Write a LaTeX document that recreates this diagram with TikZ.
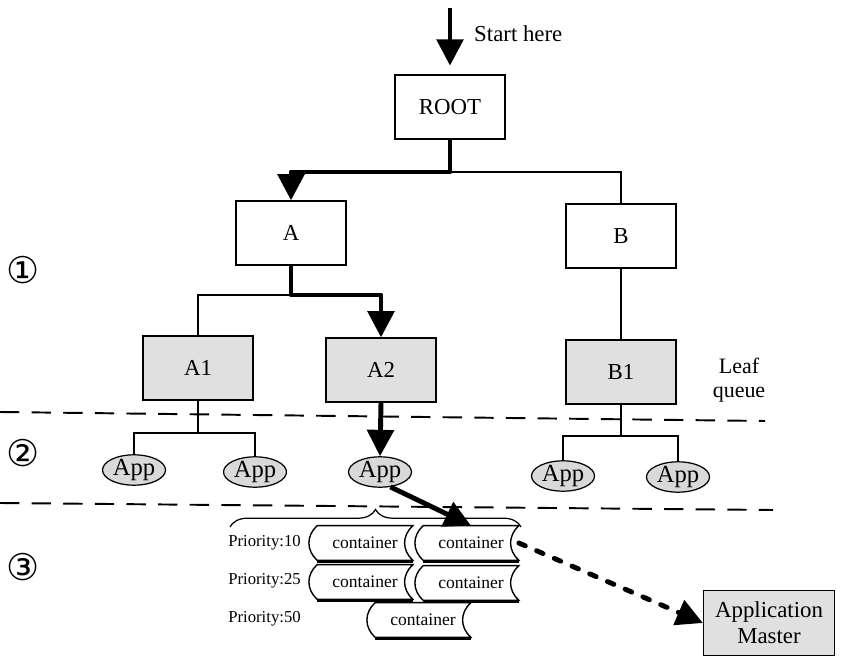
\documentclass[tikz,border=0pt]{standalone}
\usepackage{fontspec}
\setmainfont{Liberation Serif}
\newfontfamily\circfont{DejaVu Sans}
\usetikzlibrary{arrows.meta,shapes.geometric,decorations.pathreplacing}

\tikzset{
	qbox/.style={draw, line width=0.7pt, minimum width=2.2cm, minimum height=1.28cm, font=\fontsize{13}{15}\selectfont},
	leafbox/.style={qbox, fill=black!12},
	app/.style={ellipse, draw, line width=0.7pt, fill=black!15, minimum width=1.26cm, minimum height=0.58cm, inner sep=0pt, font=\fontsize{14}{16}\selectfont},
	cont/.style={minimum width=1.9cm, minimum height=0.68cm, inner sep=0pt, font=\fontsize{10}{12}\selectfont},
	prio/.style={anchor=west, inner sep=0pt, font=\fontsize{9.5}{11}\selectfont},
	branch/.style={line width=0.7pt},
	hotpath/.style={line width=2.8pt, line join=round},
	bigtip/.style={-{Triangle[length=15pt, width=15pt]}},
	sepline/.style={line width=1.1pt, dash pattern=on 11pt off 7pt},
	circnum/.style={font=\circfont\fontsize{21}{21}\selectfont}
}

\begin{document}
\begin{tikzpicture}[x=0.02cm, y=-0.02cm]
	\useasboundingbox (0, 0) rectangle (849, 669);

	% queue tree
	\node [qbox] (root) at (450, 107) {ROOT};
	\node [qbox] (a) at (291, 233) {A};
	\node [qbox] (b) at (621, 236) {B};
	\node [leafbox] (a1) at (198, 368) {A1};
	\node [leafbox] (a2) at (381, 370) {A2};
	\node [leafbox] (b1) at (621, 372) {B1};

	\node [anchor=west, font=\fontsize{13}{15}\selectfont] (start here) at (468, 34) {Start here};
	\node [align=center, font=\fontsize{12.5}{14}\selectfont] (leaf) at (739, 380) {Leaf\\queue};

	\coordinate (start) at (450, 8);
	\coordinate (rj) at (450, 172);
	\coordinate (aj) at (291, 295);
	\coordinate (a1j) at (198, 433);
	\coordinate (b1j) at (621, 436);

	\draw [hotpath, bigtip, shorten >=5pt] (start) -- (root.north);
	\draw [branch] (rj) -| (b.north);
	\draw [hotpath, bigtip] (root.south) -- (rj) -| (a.north);
	\draw [branch] (aj) -| (a1.north);
	\draw [hotpath, bigtip] (a.south) -- (aj) -| (a2.north);
	\draw [branch] (b.south) -- (b1.north);

	% apps
	\node [app] (app1) at (134, 470) {App};
	\node [app] (app2) at (255, 472) {App};
	\node [app] (app3) at (380, 472) {App};
	\node [app] (app4) at (563, 476) {App};
	\node [app] (app5) at (678, 477) {App};

	\draw [branch] (a1.south) -- (a1j);
	\draw [branch] (a1j) -| (app1.north);
	\draw [branch] (a1j) -| (app2.north);
	\draw [branch] (b1.south) -- (b1j);
	\draw [branch] (b1j) -| (app4.north);
	\draw [branch] (b1j) -| (app5.north);
	\draw [hotpath, bigtip] (a2.south) -- (app3.north);

	\draw [sepline] (0, 412) -- (765, 421);
	\draw [sepline] (0, 503) -- (773, 510);

	% containers
	\node [prio] (p10) at (228, 543) {Priority:10};
	\node [prio] (p25) at (228, 581) {Priority:25};
	\node [prio] (p50) at (228, 619) {Priority:50};

	\node [cont] (c11) at (365, 543) {container};
	\node [cont] (c12) at (471, 543) {container};
	\node [cont] (c21) at (365, 582) {container};
	\node [cont] (c22) at (471, 583) {container};
	\node [cont] (c3) at (423, 620) {container};

	\foreach \c in {c11, c12, c21, c22, c3} {
		\draw [line width=0.8pt] (\c.north west) .. controls +(-11, 10) and +(-11, -10) .. (\c.south west)
			-- (\c.south east) .. controls +(-11, -10) and +(-11, 10) .. (\c.north east) -- cycle;
		\draw [line width=1.8pt] ([yshift=-0.6pt]\c.south west) -- ([yshift=-0.6pt]\c.south east);
	}

	\coordinate (bl) at (230, 527);
	\coordinate (br) at (521, 527);
	\draw [branch, decorate, decoration={brace, amplitude=10pt}] (bl) -- (br);

	\draw [hotpath, bigtip] (app3.-55) -- (c12.north);

	\node [leafbox, minimum width=2.62cm, minimum height=1.3cm, align=center, font=\fontsize{13}{15}\selectfont] (am) at (769, 623) {Application\\Master};
	\draw [line width=2.8pt, line cap=round, dash pattern=on 4pt off 7pt, bigtip] (c12.east) -- (am.west);

	% stages
	\node [circnum] (n1) at (23, 270) {①};
	\node [circnum] (n2) at (23, 453) {②};
	\node [circnum] (n3) at (23, 567) {③};
\end{tikzpicture}
\end{document}
